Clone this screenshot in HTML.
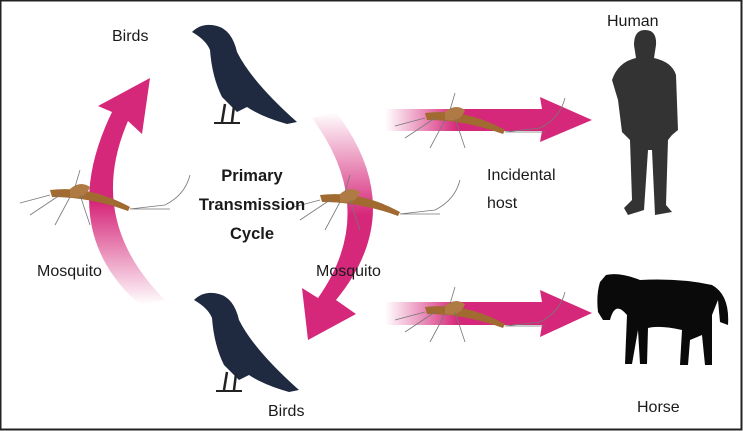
<!DOCTYPE html>
<html><head><meta charset="utf-8"><style>
html,body{margin:0;padding:0;background:#fff}
svg{display:block}
text{font-family:"Liberation Sans",sans-serif;fill:#1a1a1a}
</style></head><body>
<svg width="743" height="431" viewBox="0 0 743 431" xmlns="http://www.w3.org/2000/svg">
<defs>
<linearGradient id="gl" x1="0" y1="1" x2="0" y2="0"><stop offset="0" stop-color="#d6287a" stop-opacity="0"/><stop offset="0.45" stop-color="#d6287a"/><stop offset="1" stop-color="#d6287a"/></linearGradient>
<linearGradient id="gr" x1="0" y1="0" x2="0" y2="1"><stop offset="0" stop-color="#d6287a" stop-opacity="0"/><stop offset="0.45" stop-color="#d6287a"/><stop offset="1" stop-color="#d6287a"/></linearGradient>
<linearGradient id="gh" x1="0" y1="0" x2="1" y2="0"><stop offset="0" stop-color="#d6287a" stop-opacity="0"/><stop offset="0.35" stop-color="#d6287a"/><stop offset="1" stop-color="#d6287a"/></linearGradient>
<g id="crow">
<path d="M0,10 Q10,0 25,4 Q40,8 45,30 Q60,60 105,100 L95,102 Q70,95 55,85 L45,90 L30,75 Q20,55 18,28 Q14,18 0,10Z" fill="#1f2a40"/>
<path d="M33,82 L30,100 M42,84 L40,100" stroke="#222" stroke-width="2.5"/>
<path d="M22,101 L48,101" stroke="#222" stroke-width="2"/>
</g>
<g id="mos">
<path d="M-40,-5 Q0,-10 40,12 L38,16 Q0,2 -38,2Z" fill="#a06a30"/>
<path d="M-20,-6 Q-10,-15 0,-8 Q-5,5 -20,2Z" fill="#b07a45"/>
<path d="M-40,0 L-70,8 M-30,0 L-60,20 M-20,2 L-35,30 M-10,0 L0,30 M-15,-8 L-10,-25 M40,14 L75,10 Q95,0 100,-20 M40,14 L80,14" stroke="#777" stroke-width="0.8" fill="none"/>
</g>
</defs>
<rect x="0.5" y="0.5" width="741" height="429" fill="#fff" stroke="#222" stroke-width="2"/>

<path d="M140,305 Q55,230 112,112 L98,106 L150,78 L142,134 L128,121 Q85,220 165,300Z" fill="url(#gl)"/>
<path d="M336,112 Q410,210 336,300 L356,314 L308,340 L302,288 L318,298 Q380,210 312,118Z" fill="url(#gr)"/>
<path d="M385,109 L542,109 L540,97 L592,120 L540,142 L542,131 L385,131Z" fill="url(#gh)"/>
<path d="M385,302 L542,302 L540,290 L592,313 L540,337 L542,325 L385,325Z" fill="url(#gh)"/>

<use href="#crow" x="192" y="22"/>
<use href="#crow" x="194" y="290"/>

<path d="M645,30 Q657,30 656,45 L654,58 Q672,62 676,75 L678,130 L672,135 L668,140 L666,205 L672,212 L655,215 L652,150 L648,150 L644,210 L628,215 L624,208 L632,200 L630,140 L622,132 L618,100 L612,80 Q618,62 636,58 L634,45 Q634,30 645,30Z" fill="#333"/>
<path d="M600,282 L606,275 Q620,272 640,280 Q680,278 712,285 Q730,295 728,325 L720,322 L718,300 L712,315 L712,365 L705,365 L702,335 L690,340 L688,365 L680,365 L682,330 Q660,325 648,328 L647,364 L640,364 L638,330 L632,364 L625,364 L627,315 Q615,300 610,320 L603,320 L598,312 Q596,295 600,282Z" fill="#0a0a0a"/>

<use href="#mos" x="90" y="195"/>
<use href="#mos" x="360" y="200"/>
<use href="#mos" x="465" y="118"/>
<use href="#mos" x="465" y="312"/>

<text x="112" y="41" font-size="16">Birds</text>
<text x="252" y="181" font-size="16.5" font-weight="bold" text-anchor="middle">Primary</text>
<text x="252" y="210" font-size="16.5" font-weight="bold" text-anchor="middle">Transmission</text>
<text x="252" y="239" font-size="16.5" font-weight="bold" text-anchor="middle">Cycle</text>
<text x="37" y="276" font-size="16">Mosquito</text>
<text x="316" y="276" font-size="16">Mosquito</text>
<text x="487" y="180" font-size="16">Incidental</text>
<text x="487" y="208" font-size="16">host</text>
<text x="607" y="26" font-size="16">Human</text>
<text x="268" y="416" font-size="16">Birds</text>
<text x="637" y="412" font-size="16">Horse</text>
</svg>
</body></html>
